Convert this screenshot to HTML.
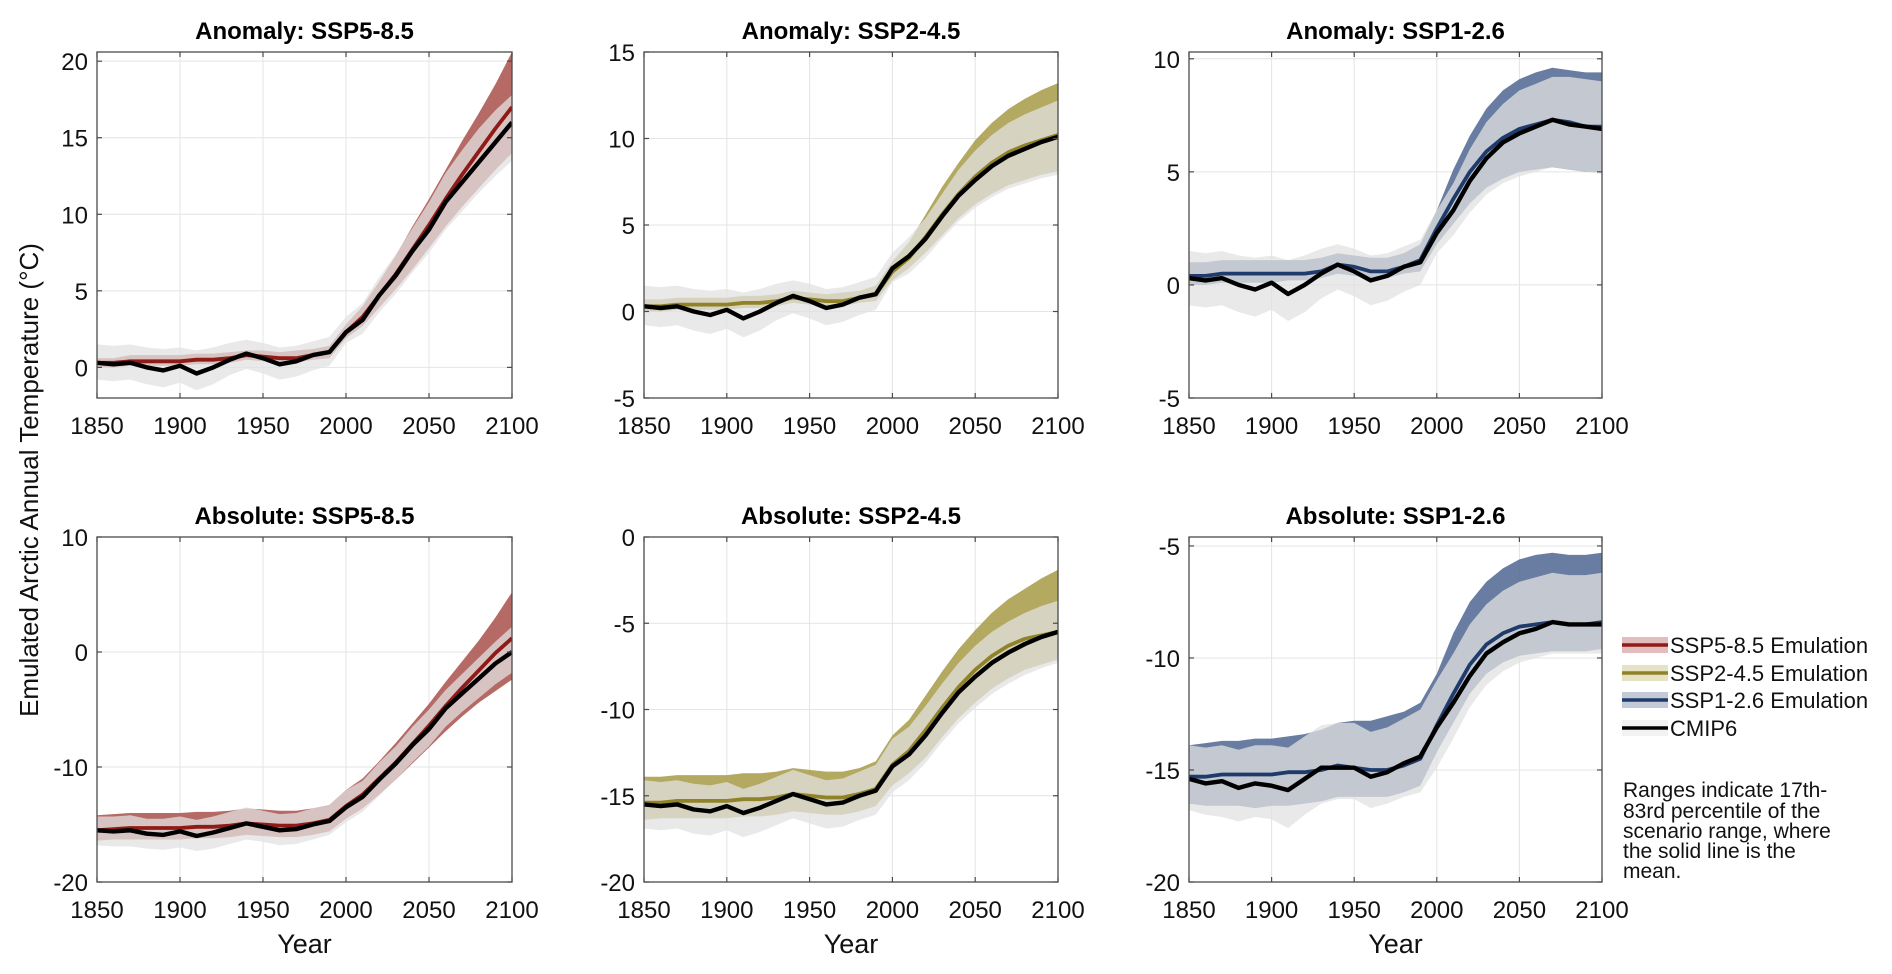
<!DOCTYPE html>
<html><head><meta charset="utf-8">
<style>
html,body{margin:0;padding:0;background:#fff;}
svg{display:block;font-family:"Liberation Sans",Arial,sans-serif;}
</style></head>
<body>
<svg id="fig" width="1892" height="974" viewBox="0 0 1892 974" xmlns="http://www.w3.org/2000/svg">
<text x="0" y="0" transform="translate(38,480) rotate(-90)" text-anchor="middle" font-size="26" fill="#111">Emulated Arctic Annual Temperature (°C)</text>
<g>
 <g><rect x="1622" y="637" width="46" height="16" fill="#e3bdbd"/><line x1="1622" y1="645" x2="1668" y2="645" stroke="#8e1b17" stroke-width="3.5"/><text x="1670" y="653" font-size="22" fill="#111">SSP5-8.5 Emulation</text></g>
 <g><rect x="1622" y="665" width="46" height="16" fill="#e6e2c4"/><line x1="1622" y1="673" x2="1668" y2="673" stroke="#8f8228" stroke-width="3.5"/><text x="1670" y="681" font-size="22" fill="#111">SSP2-4.5 Emulation</text></g>
 <g><rect x="1622" y="692" width="46" height="16" fill="#c2cad8"/><line x1="1622" y1="700" x2="1668" y2="700" stroke="#1f3b6b" stroke-width="3.5"/><text x="1670" y="708" font-size="22" fill="#111">SSP1-2.6 Emulation</text></g>
 <g><rect x="1622" y="720" width="46" height="16" fill="#f2f2f2"/><line x1="1622" y1="728" x2="1668" y2="728" stroke="#000" stroke-width="3.5"/><text x="1670" y="736" font-size="22" fill="#111">CMIP6</text></g>
</g>
<text font-size="21" fill="#111">
 <tspan x="1623" y="797">Ranges indicate 17th-</tspan>
 <tspan x="1623" y="818">83rd percentile of the</tspan>
 <tspan x="1623" y="838">scenario range, where</tspan>
 <tspan x="1623" y="858">the solid line is the</tspan>
 <tspan x="1623" y="878">mean.</tspan>
</text>
</svg>
<script>
const years = [1850,1860,1870,1880,1890,1900,1910,1920,1930,1940,1950,1960,1970,1980,1990,2000,2010,2020,2030,2040,2050,2060,2070,2080,2090,2100];
const xTicks = [1850,1900,1950,2000,2050,2100];
// Panel 1: Anomaly SSP5-8.5
const a585EmuMean = [0.3,0.3,0.4,0.4,0.4,0.4,0.5,0.5,0.6,0.8,0.7,0.6,0.6,0.8,1.0,2.3,3.3,4.7,6.1,7.7,9.3,11.0,12.6,14.1,15.6,17.0];
const a585EmuLo = [0,0,0.1,0.1,0.1,0.1,0.2,0.2,0.3,0.5,0.4,0.3,0.3,0.5,0.6,1.9,2.7,3.9,5.1,6.4,7.8,9.2,10.5,11.7,12.9,14.0];
const a585EmuHi = [0.6,0.6,0.8,0.8,0.8,0.8,0.9,0.9,1.0,1.1,1.1,1.0,1.1,1.2,1.4,2.8,4.0,5.6,7.3,9.2,11.0,12.9,14.8,16.6,18.5,20.6];
const a585CmMean = [0.3,0.2,0.3,0.0,-0.2,0.1,-0.4,0.0,0.5,0.9,0.6,0.2,0.4,0.8,1.0,2.3,3.1,4.7,6.0,7.6,9.0,10.8,12.1,13.4,14.7,16.0];
const a585CmLo = [-0.8,-0.9,-0.8,-1.1,-1.3,-1.0,-1.5,-1.1,-0.5,-0.1,-0.4,-0.8,-0.6,-0.2,0.1,1.6,2.2,3.6,4.8,6.2,7.5,9.0,10.2,11.4,12.5,13.5];
const a585CmHi = [1.5,1.4,1.5,1.3,1.2,1.3,1.1,1.3,1.6,1.8,1.6,1.3,1.4,1.7,2.0,3.3,4.2,5.9,7.4,9.1,10.8,12.7,14.2,15.6,16.8,17.8];
// Panel 2: Anomaly SSP2-4.5
const a245EmuMean = [0.3,0.3,0.4,0.4,0.4,0.4,0.5,0.5,0.6,0.8,0.7,0.6,0.6,0.8,1.0,2.3,3.1,4.3,5.6,6.8,7.8,8.6,9.2,9.6,9.9,10.2];
const a245EmuLo = [0,0,0.1,0.1,0.1,0.1,0.2,0.2,0.3,0.5,0.4,0.3,0.3,0.5,0.6,1.8,2.5,3.4,4.4,5.4,6.2,6.8,7.3,7.6,7.9,8.1];
const a245EmuHi = [0.7,0.7,0.8,0.8,0.8,0.8,0.9,0.9,1.0,1.2,1.1,1.0,1.1,1.2,1.5,2.9,4.0,5.6,7.2,8.6,9.9,10.9,11.7,12.3,12.8,13.2];
const a245CmMean = [0.3,0.2,0.3,0.0,-0.2,0.1,-0.4,0.0,0.5,0.9,0.6,0.2,0.4,0.8,1.0,2.5,3.2,4.2,5.5,6.7,7.6,8.4,9.0,9.4,9.8,10.1];
const a245CmLo = [-0.8,-0.9,-0.8,-1.1,-1.3,-1.0,-1.5,-1.1,-0.5,-0.1,-0.4,-0.8,-0.6,-0.2,0.1,1.7,2.2,3.1,4.2,5.2,6.0,6.6,7.1,7.4,7.7,7.9];
const a245CmHi = [1.5,1.4,1.5,1.3,1.2,1.3,1.1,1.3,1.6,1.8,1.6,1.3,1.4,1.7,2.0,3.4,4.3,5.4,6.8,8.2,9.3,10.2,10.9,11.4,11.8,12.2];
// Panel 3: Anomaly SSP1-2.6
const a126EmuMean = [0.4,0.4,0.5,0.5,0.5,0.5,0.5,0.5,0.6,0.9,0.8,0.6,0.6,0.8,1.1,2.5,3.8,5.0,5.9,6.5,6.9,7.1,7.3,7.2,7.0,7.0];
const a126EmuLo = [0,0,0.1,0.1,0.1,0.1,0.2,0.2,0.3,0.5,0.4,0.3,0.3,0.5,0.6,1.8,2.7,3.6,4.3,4.7,5.0,5.1,5.2,5.1,5.0,5.0];
const a126EmuHi = [1.0,1.0,1.1,1.1,1.1,1.1,1.1,1.1,1.2,1.4,1.3,1.2,1.2,1.4,1.8,3.3,5.1,6.6,7.8,8.6,9.1,9.4,9.6,9.5,9.4,9.4];
const a126CmMean = [0.3,0.2,0.3,0.0,-0.2,0.1,-0.4,0.0,0.5,0.9,0.6,0.2,0.4,0.8,1.0,2.3,3.3,4.6,5.6,6.3,6.7,7.0,7.3,7.1,7.0,6.9];
const a126CmLo = [-0.9,-1.0,-0.9,-1.2,-1.4,-1.1,-1.6,-1.2,-0.6,-0.2,-0.5,-0.9,-0.7,-0.3,0.0,1.4,2.2,3.2,4.0,4.5,4.8,5.0,5.2,5.1,5.0,4.9];
const a126CmHi = [1.5,1.4,1.5,1.3,1.2,1.3,1.1,1.3,1.6,1.8,1.6,1.3,1.4,1.7,2.0,3.3,4.5,6.0,7.2,8.0,8.6,8.9,9.2,9.2,9.1,9.0];
// Panel 4: Absolute SSP5-8.5
const b585EmuMean = [-15.5,-15.4,-15.3,-15.3,-15.3,-15.3,-15.2,-15.2,-15.1,-14.9,-15.0,-15.1,-15.1,-14.9,-14.6,-13.4,-12.4,-11.0,-9.6,-8.0,-6.4,-4.7,-3.1,-1.6,-0.1,1.2];
const b585EmuLo = [-16.4,-16.3,-16.3,-16.3,-16.3,-16.3,-16.2,-16.2,-16.1,-15.9,-16.0,-16.1,-16.1,-15.9,-15.6,-14.5,-13.6,-12.4,-11.1,-9.7,-8.3,-6.9,-5.6,-4.4,-3.4,-2.4];
const b585EmuHi = [-14.2,-14.1,-14.0,-14.0,-14.0,-14.0,-13.9,-13.9,-13.8,-13.6,-13.7,-13.8,-13.8,-13.6,-13.3,-12.0,-11.0,-9.5,-7.9,-6.2,-4.5,-2.6,-0.8,1.0,3.0,5.2];
const b585CmMean = [-15.5,-15.6,-15.5,-15.8,-15.9,-15.6,-16.0,-15.7,-15.3,-14.9,-15.2,-15.5,-15.4,-15.0,-14.7,-13.5,-12.6,-11.1,-9.7,-8.1,-6.7,-4.9,-3.6,-2.3,-1.0,0.0];
const b585CmLo = [-16.8,-16.9,-16.9,-17.1,-17.2,-17.0,-17.3,-17.1,-16.7,-16.3,-16.5,-16.8,-16.7,-16.3,-15.9,-14.8,-13.9,-12.5,-11.1,-9.6,-8.2,-6.5,-5.2,-4.0,-2.8,-1.8];
const b585CmHi = [-14.3,-14.3,-14.2,-14.5,-14.5,-14.3,-14.6,-14.3,-13.9,-13.5,-13.8,-14.1,-14.0,-13.6,-13.3,-12.0,-11.2,-9.6,-8.2,-6.5,-5.0,-3.3,-1.9,-0.5,0.9,2.2];
// Panel 5: Absolute SSP2-4.5
const b245EmuMean = [-15.4,-15.4,-15.3,-15.3,-15.3,-15.3,-15.2,-15.2,-15.1,-14.9,-15.0,-15.1,-15.1,-14.9,-14.6,-13.2,-12.4,-11.2,-9.9,-8.7,-7.7,-6.9,-6.3,-5.9,-5.7,-5.5];
const b245EmuLo = [-16.4,-16.3,-16.3,-16.3,-16.3,-16.3,-16.2,-16.2,-16.1,-15.9,-16.0,-16.1,-16.1,-15.9,-15.6,-14.4,-13.7,-12.8,-11.6,-10.5,-9.6,-8.8,-8.2,-7.7,-7.4,-7.1];
const b245EmuHi = [-13.9,-13.9,-13.8,-13.8,-13.8,-13.8,-13.7,-13.7,-13.6,-13.4,-13.5,-13.6,-13.6,-13.4,-13.0,-11.5,-10.6,-9.2,-7.8,-6.5,-5.4,-4.4,-3.6,-3.0,-2.4,-1.9];
const b245CmMean = [-15.5,-15.6,-15.5,-15.8,-15.9,-15.6,-16.0,-15.7,-15.3,-14.9,-15.2,-15.5,-15.4,-15.0,-14.7,-13.3,-12.6,-11.5,-10.2,-9.0,-8.1,-7.3,-6.7,-6.2,-5.8,-5.5];
const b245CmLo = [-16.9,-17.0,-16.9,-17.2,-17.3,-17.0,-17.4,-17.1,-16.7,-16.3,-16.6,-16.9,-16.8,-16.4,-16.1,-14.8,-14.1,-13.1,-11.9,-10.8,-9.9,-9.1,-8.5,-8.0,-7.6,-7.3];
const b245CmHi = [-14.1,-14.2,-14.1,-14.3,-14.4,-14.2,-14.6,-14.3,-13.9,-13.5,-13.8,-14.1,-14.0,-13.6,-13.2,-11.7,-11.0,-9.8,-8.5,-7.3,-6.3,-5.5,-4.9,-4.4,-4.0,-3.7];
// Panel 6: Absolute SSP1-2.6
const b126EmuMean = [-15.3,-15.3,-15.2,-15.2,-15.2,-15.2,-15.1,-15.1,-15.0,-14.8,-14.9,-15.0,-15.0,-14.8,-14.5,-13.0,-11.6,-10.3,-9.4,-8.9,-8.6,-8.5,-8.4,-8.5,-8.5,-8.4];
const b126EmuLo = [-16.5,-16.6,-16.6,-16.6,-16.7,-16.6,-16.6,-16.5,-16.4,-16.2,-16.2,-16.2,-16.2,-16.0,-15.7,-14.2,-12.9,-11.6,-10.7,-10.2,-9.9,-9.8,-9.7,-9.7,-9.7,-9.6];
const b126EmuHi = [-13.9,-13.8,-13.7,-13.7,-13.6,-13.6,-13.5,-13.4,-13.2,-12.9,-12.8,-12.8,-12.6,-12.4,-12.0,-10.7,-8.9,-7.5,-6.6,-6.0,-5.6,-5.4,-5.3,-5.4,-5.4,-5.3];
const b126CmMean = [-15.4,-15.6,-15.5,-15.8,-15.6,-15.7,-15.9,-15.4,-14.9,-14.9,-14.9,-15.3,-15.1,-14.7,-14.4,-13.1,-12.0,-10.8,-9.8,-9.3,-8.9,-8.7,-8.4,-8.5,-8.5,-8.5];
const b126CmLo = [-16.8,-17.0,-17.1,-17.3,-17.1,-17.2,-17.6,-17.0,-16.5,-16.3,-16.3,-16.7,-16.5,-16.2,-16.0,-14.9,-13.6,-12.2,-11.2,-10.6,-10.2,-10.0,-9.8,-9.8,-9.8,-9.8];
const b126CmHi = [-13.9,-14.0,-13.9,-14.1,-13.9,-13.9,-14.0,-13.5,-13.0,-12.9,-12.9,-13.3,-13.1,-12.7,-12.3,-11.0,-9.8,-8.5,-7.6,-7.0,-6.6,-6.4,-6.2,-6.3,-6.3,-6.2];

const NS = 'http://www.w3.org/2000/svg';
const svg = document.getElementById('fig');
function mk(tag, attrs, parent){ const e=document.createElementNS(NS,tag); for(const k in attrs) e.setAttribute(k,attrs[k]); (parent||svg).appendChild(e); return e; }

const panels = [
 {key:'anomaly-ssp585', title:'Anomaly: SSP5-8.5', x0:97,x1:512,y0:52,y1:398, ymin:-2, ymax:20.6, yTicks:[0,5,10,15,20], em:a585EmuMean, el:a585EmuLo, eh:a585EmuHi, cm:a585CmMean, cl:a585CmLo, ch:a585CmHi, fill:'#a9504a', line:'#8e1b17', year:false},
 {key:'anomaly-ssp245', title:'Anomaly: SSP2-4.5', x0:644,x1:1058,y0:52,y1:398, ymin:-5, ymax:15, yTicks:[-5,0,5,10,15], em:a245EmuMean, el:a245EmuLo, eh:a245EmuHi, cm:a245CmMean, cl:a245CmLo, ch:a245CmHi, fill:'#a69a45', line:'#8f8228', year:false},
 {key:'anomaly-ssp126', title:'Anomaly: SSP1-2.6', x0:1189,x1:1602,y0:52,y1:398, ymin:-5, ymax:10.3, yTicks:[-5,0,5,10], em:a126EmuMean, el:a126EmuLo, eh:a126EmuHi, cm:a126CmMean, cl:a126CmLo, ch:a126CmHi, fill:'#4d6690', line:'#1f3b6b', year:false},
 {key:'absolute-ssp585', title:'Absolute: SSP5-8.5', x0:97,x1:512,y0:537,y1:882, ymin:-20, ymax:10, yTicks:[-20,-10,0,10], em:b585EmuMean, el:b585EmuLo, eh:b585EmuHi, cm:b585CmMean, cl:b585CmLo, ch:b585CmHi, fill:'#a9504a', line:'#8e1b17', year:true},
 {key:'absolute-ssp245', title:'Absolute: SSP2-4.5', x0:644,x1:1058,y0:537,y1:882, ymin:-20, ymax:0, yTicks:[-20,-15,-10,-5,0], em:b245EmuMean, el:b245EmuLo, eh:b245EmuHi, cm:b245CmMean, cl:b245CmLo, ch:b245CmHi, fill:'#a69a45', line:'#8f8228', year:true},
 {key:'absolute-ssp126', title:'Absolute: SSP1-2.6', x0:1189,x1:1602,y0:537,y1:882, ymin:-20, ymax:-4.6, yTicks:[-20,-15,-10,-5], em:b126EmuMean, el:b126EmuLo, eh:b126EmuHi, cm:b126CmMean, cl:b126CmLo, ch:b126CmHi, fill:'#4d6690', line:'#1f3b6b', year:true}
];

panels.forEach(p=>{
  const g = mk('g',{});
  
  
  const xs = v => p.x0 + (v-1850)/(2100-1850)*(p.x1-p.x0);
  const ys = v => p.y1 - (v-p.ymin)/(p.ymax-p.ymin)*(p.y1-p.y0);
  const cid = 'clip-'+p.key;
  const cp = mk('clipPath',{id:cid},g); mk('rect',{x:p.x0,y:p.y0,width:p.x1-p.x0,height:p.y1-p.y0},cp);
  xTicks.forEach(t=>{ const l=mk('line',{x1:xs(t),x2:xs(t),y1:p.y0,y2:p.y1,stroke:'#e4e4e4','stroke-width':1},g);
      });
  p.yTicks.forEach(t=>{ const l=mk('line',{x1:p.x0,x2:p.x1,y1:ys(t),y2:ys(t),stroke:'#e4e4e4','stroke-width':1},g);
      });
  const band = (lo,hi)=>{ let d='M'; years.forEach((y,i)=>{d+=xs(y).toFixed(1)+','+ys(hi[i]).toFixed(1)+' L';});
    for(let i=years.length-1;i>=0;i--){ d+=xs(years[i]).toFixed(1)+','+ys(lo[i]).toFixed(1)+(i>0?' L':' Z');} return d; };
  const line = arr=>'M'+years.map((y,i)=>xs(y).toFixed(1)+','+ys(arr[i]).toFixed(1)).join(' L');
  const pg = mk('g',{'clip-path':'url(#'+cid+')'},g);
  const eb = mk('path',{d:band(p.el,p.eh),fill:p.fill,'fill-opacity':0.85},pg);
   
  const cb = mk('path',{d:band(p.cl,p.ch),fill:'#e2e2e2','fill-opacity':0.75},pg);
   
  const el = mk('path',{d:line(p.em),fill:'none',stroke:p.line,'stroke-width':3.8,'stroke-linejoin':'round'},pg);
   
  const cl = mk('path',{d:line(p.cm),fill:'none',stroke:'#000','stroke-width':4.4,'stroke-linejoin':'round'},pg);
   
  const bx = mk('rect',{x:p.x0,y:p.y0,width:p.x1-p.x0,height:p.y1-p.y0,fill:'none',stroke:'#4a4a4a','stroke-width':1.3},g);
   
  xTicks.forEach(t=>{
    mk('line',{x1:xs(t),x2:xs(t),y1:p.y1,y2:p.y1-5,stroke:'#4a4a4a','stroke-width':1.2},g);
    mk('line',{x1:xs(t),x2:xs(t),y1:p.y0,y2:p.y0+5,stroke:'#4a4a4a','stroke-width':1.2},g);
    const tx = mk('text',{x:xs(t),y:p.y1+36,'text-anchor':'middle','font-size':24,fill:'#111'},g);
    tx.textContent = t;
     
  });
  p.yTicks.forEach(t=>{
    mk('line',{x1:p.x0,x2:p.x0+5,y1:ys(t),y2:ys(t),stroke:'#4a4a4a','stroke-width':1.2},g);
    mk('line',{x1:p.x1,x2:p.x1-5,y1:ys(t),y2:ys(t),stroke:'#4a4a4a','stroke-width':1.2},g);
    const ty = mk('text',{x:p.x0-9,y:ys(t)+9,'text-anchor':'end','font-size':24,fill:'#111'},g);
    ty.textContent = t;
     
  });
  const tt = mk('text',{x:(p.x0+p.x1)/2,y:p.y0-13,'text-anchor':'middle','font-size':24,'font-weight':'bold',fill:'#000'},g);
  tt.textContent = p.title;
   
  if(p.year){
    const yl = mk('text',{x:(p.x0+p.x1)/2,y:953,'text-anchor':'middle','font-size':27,fill:'#111'},g);
    yl.textContent = 'Year';
     
  }
});
</script>
</body></html>
